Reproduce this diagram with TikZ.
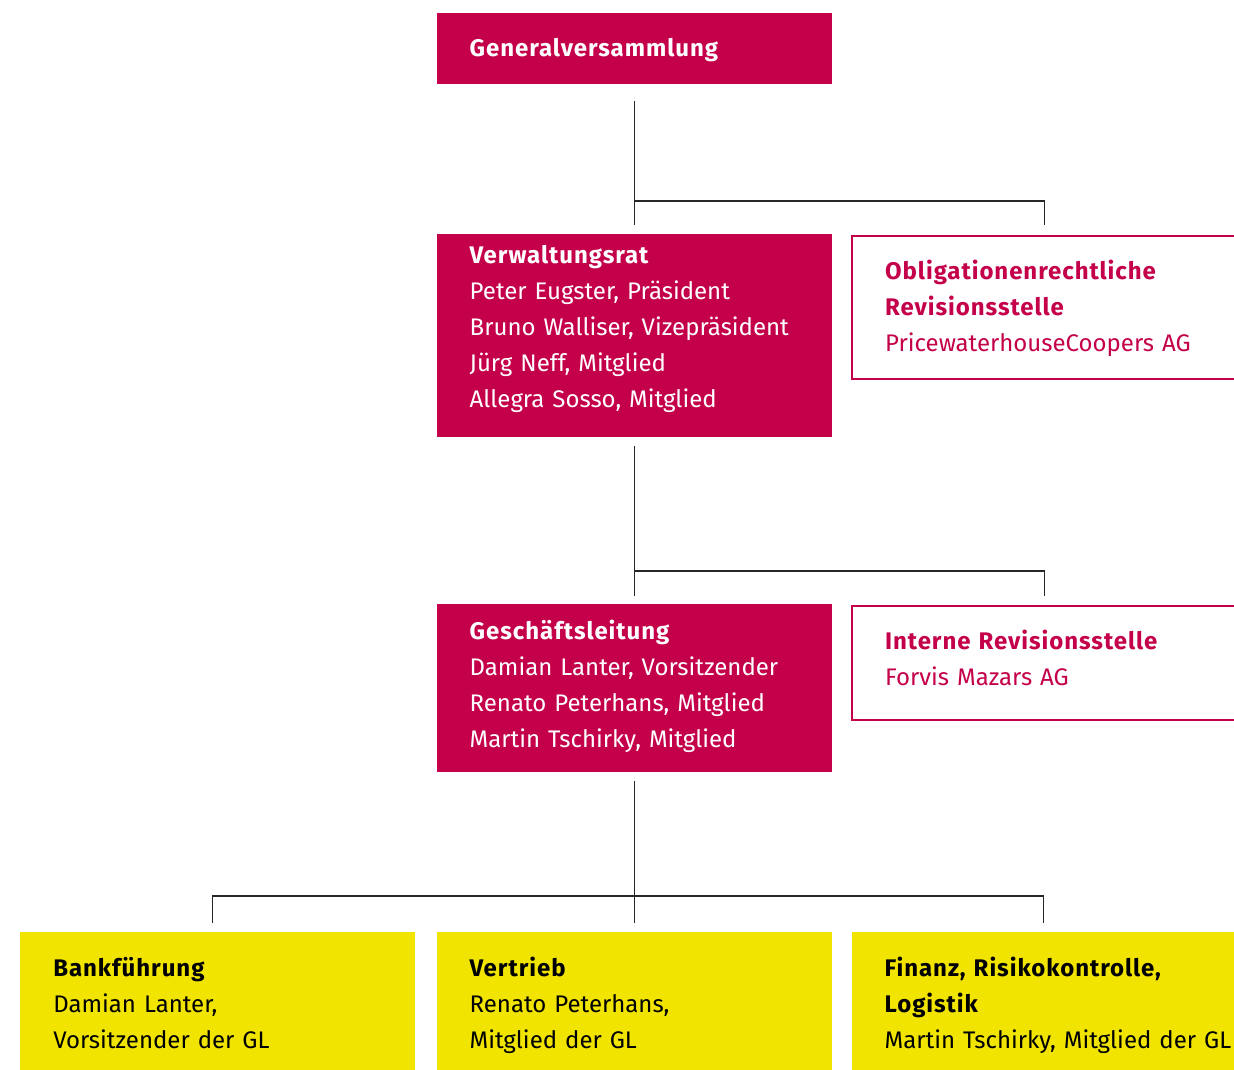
\documentclass[tikz,border=0pt]{standalone}
\usepackage{fontspec}
\setmainfont{Fira Sans}[BoldFeatures={LetterSpace=4}]
\usetikzlibrary{positioning}

\begin{document}
\begin{tikzpicture}[x=1pt,y=-1pt]

% Corporate colours
\definecolor{bankred}{RGB}{196,0,74}
\definecolor{bankyellow}{RGB}{240,228,0}

\tikzset{
  orgbox/.style={anchor=north west, inner xsep=33pt, inner ysep=0pt,
    align=left, font=\fontsize{24}{36}\selectfont},
  % box height and distance from the top edge to the first baseline
  boxsize/.style 2 args={minimum height=#1, text height=#2, text depth=#1-#2},
  redbox/.style={orgbox, fill=bankred, text=white},
  auditbox/.style={orgbox, draw=bankred, line width=1.5pt, fill=white, text=bankred},
  unitbox/.style={orgbox, fill=bankyellow, text=black},
  link/.style={line width=1.3pt, black!85}
}

\useasboundingbox (0,0) rectangle (1234,1070);
\clip (0,0) rectangle (1234,1070);

% Main column
\node[redbox, text width=329pt, minimum width=395pt, boxsize={71pt}{43pt}]
  (gv) at (436.5,13) {\textbf{Generalversammlung}};

\node[redbox, text width=329pt, minimum width=395pt, boxsize={203pt}{29pt}]
  (vr) at (436.5,234) {\textbf{Verwaltungsrat}\\
    Peter Eugster, Präsident\\
    Bruno Walliser, Vizepräsident\\
    Jürg Neff, Mitglied\\
    Allegra Sosso, Mitglied};

\node[redbox, text width=329pt, minimum width=395pt, boxsize={168pt}{35pt}]
  (gl) at (436.5,604) {\textbf{Geschäftsleitung}\\
    Damian Lanter, Vorsitzender\\
    Renato Peterhans, Mitglied\\
    Martin Tschirky, Mitglied};

% Revision offices on the right
\node[auditbox, text width=318pt, minimum width=384pt, boxsize={143pt}{44pt},
  below right=1pt and 19.5pt of vr.north east]
  (ors) {\textbf{Obligationenrechtliche}\\
    \textbf{Revisionsstelle}\\
    PricewaterhouseCoopers AG};

\node[auditbox, text width=318pt, minimum width=384pt, boxsize={114pt}{44pt},
  below right=1pt and 19.5pt of gl.north east]
  (irs) {\textbf{Interne Revisionsstelle}\\
    Forvis Mazars AG};

% Business units
\node[unitbox, text width=329pt, minimum width=395pt, boxsize={140pt}{44pt}]
  (vt) at (436.5,932) {\textbf{Vertrieb}\\
    Renato Peterhans,\\
    Mitglied der GL};

\node[unitbox, text width=329pt, minimum width=395pt, boxsize={140pt}{44pt},
  left=21pt of vt]
  (bf) {\textbf{Bankführung}\\
    Damian Lanter,\\
    Vorsitzender der GL};

\node[unitbox, text width=318pt, minimum width=384pt, boxsize={140pt}{44pt},
  right=19.5pt of vt]
  (fin) {\textbf{Finanz, Risikokontrolle,}\\
    \textbf{Logistik}\\
    \mbox{Martin Tschirky, Mitglied der GL}};

% Junctions
\coordinate (j1) at (634,201);
\coordinate (j2) at (634,571);
\coordinate (j3) at (634,896);

% Connectors
\draw[link] ([yshift=-17pt]gv.south) -- ([yshift=9pt]vr.north);
\draw[link] (j1) -| ([yshift=10pt]ors.north);

\draw[link] ([yshift=-9pt]vr.south) -- ([yshift=8pt]gl.north);
\draw[link] (j2) -| ([yshift=9pt]irs.north);

\draw[link] ([yshift=-9pt]gl.south) -- ([yshift=9pt]vt.north);
\draw[link] ([xshift=-5pt,yshift=9pt]bf.north) |- (j3) -| ([yshift=9pt]fin.north);

\end{tikzpicture}
\end{document}
